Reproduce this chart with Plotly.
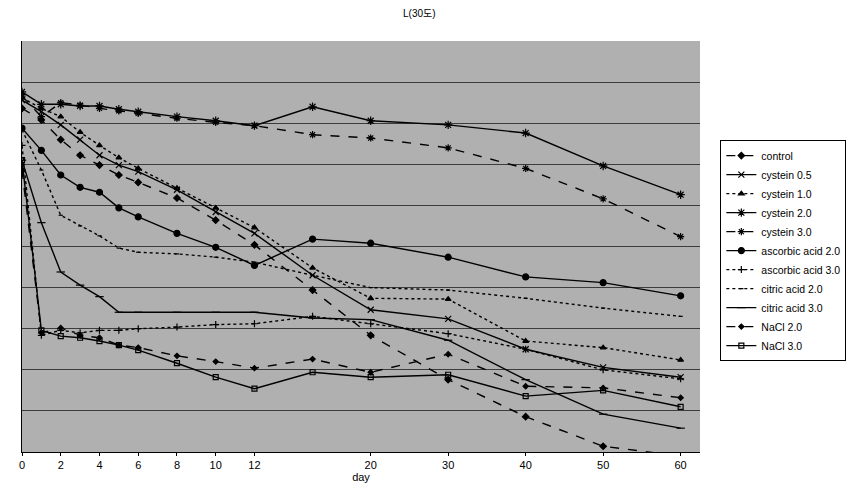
import plotly.graph_objects as go

# Sampling days and the slot each one occupies on the original (category-style) x axis
days = [0, 1, 2, 3, 4, 5, 6, 8, 10, 12, 16, 20, 30, 40, 50, 60]
day_slot = [0, 1, 2, 3, 4, 5, 6, 8, 10, 12, 15, 18, 22, 26, 30, 34]
tick_days = [0, 2, 4, 6, 8, 10, 12, 20, 30, 40, 50, 60]

control = [71.8, 70.4, 68.0, 66.1, 64.9, 63.7, 62.8, 60.9, 58.2, 55.2, 49.7, 44.2, 38.8, 34.3, 30.7, 29.5]
cystein_05 = [72.8, 71.4, 69.8, 68.0, 66.1, 64.9, 64.1, 61.9, 59.2, 56.6, 51.5, 47.3, 46.2, 42.5, 40.3, 39.1]
cystein_10 = [73.1, 71.8, 70.8, 68.9, 67.3, 65.8, 64.5, 62.1, 59.7, 57.3, 52.4, 48.7, 48.6, 43.5, 42.7, 41.2]
cystein_20 = [73.8, 72.3, 72.3, 72.1, 72.1, 71.7, 71.4, 70.8, 70.3, 69.7, 72.0, 70.3, 69.8, 68.8, 64.8, 61.3]
cystein_30 = [73.3, 70.8, 72.5, 72.2, 71.8, 71.5, 71.2, 70.6, 70.1, 69.7, 68.6, 68.2, 67.0, 64.5, 60.8, 56.2]
ascorbic_20 = [69.4, 66.7, 63.7, 62.2, 61.6, 59.7, 58.6, 56.6, 54.9, 52.7, 55.9, 55.4, 53.7, 51.3, 50.6, 49.0]
ascorbic_30 = [67.3, 44.2, 44.8, 44.5, 44.8, 44.8, 45.0, 45.2, 45.5, 45.6, 46.5, 45.6, 44.4, 42.5, 40.0, 38.9]
citric_20 = [69.2, 64.3, 58.8, 57.5, 56.3, 54.8, 54.3, 54.1, 53.7, 53.1, 51.5, 50.0, 49.7, 48.7, 47.5, 46.5]
citric_30 = [65.5, 57.9, 51.9, 50.3, 48.9, 47.0, 47.0, 47.0, 47.0, 47.0, 46.3, 46.1, 43.6, 38.8, 34.6, 32.9]
nacl_20 = [64.3, 44.5, 45.1, 44.2, 43.9, 43.0, 42.7, 41.7, 41.0, 40.2, 41.3, 39.7, 41.9, 38.0, 37.8, 36.6]
nacl_30 = [65.5, 44.8, 44.1, 43.9, 43.5, 43.0, 42.4, 40.8, 39.1, 37.7, 39.7, 39.1, 39.4, 36.8, 37.5, 35.5]

series_names = ["control", "cystein 0.5", "cystein 1.0", "cystein 2.0", "cystein 3.0",
                "ascorbic acid 2.0", "ascorbic acid 3.0", "citric acid 2.0", "citric acid 3.0",
                "NaCl 2.0", "NaCl 3.0"]
series_values = [control, cystein_05, cystein_10, cystein_20, cystein_30,
                 ascorbic_20, ascorbic_30, citric_20, citric_30, nacl_20, nacl_30]
styles = [
    ("dash", "diamond", 5),
    ("solid", "x-thin-open", 6),
    ("dot", "triangle-up", 5),
    ("solid", "asterisk-open", 7),
    ("dash", "asterisk-open", 6),
    ("solid", "circle", 6),
    ("dot", "cross-thin-open", 5),
    ("dot", "line-ew-open", 3),
    ("solid", "line-ew-open", 6),
    ("dash", "diamond", 4),
    ("solid", "square-open", 5),
]

y_min, y_max, y_step = 30, 80, 5

fig = go.Figure()
for name, vals, (dash, sym, size) in zip(series_names, series_values, styles):
    fig.add_trace(go.Scatter(
        x=day_slot, y=vals, name=name, mode="lines+markers",
        line=dict(color="black", width=1.4, dash=dash),
        marker=dict(symbol=sym, size=size, color="black",
                    line=dict(color="black", width=1.2)),
        cliponaxis=True,
    ))

slot_of = dict(zip(days, day_slot))
font_family = "Liberation Sans, Arial, Noto Sans CJK KR, sans-serif"

fig.update_layout(
    width=862, height=497,
    margin=dict(l=22, r=162, t=41, b=45),
    paper_bgcolor="white",
    plot_bgcolor="#b0b0b0",
    font=dict(family=font_family, size=10, color="black"),
    title=dict(text="L(30도)", x=0.586, xref="paper", xanchor="center",
               y=0.973, yref="container", yanchor="middle",
               font=dict(size=10, family="Liberation Sans, Noto Sans CJK KR")),
    showlegend=True,
    legend=dict(x=1.03, xanchor="left", y=0.49, yanchor="middle",
                bgcolor="white", bordercolor="black", borderwidth=1,
                font=dict(size=10.5, family=font_family),
                tracegroupgap=0, itemwidth=30),
    xaxis=dict(
        range=[0, 35.0],
        tickmode="array",
        tickvals=[slot_of[d] for d in tick_days],
        ticktext=[str(d) for d in tick_days],
        ticks="outside", ticklen=3, tickcolor="black",
        showgrid=False, zeroline=False,
        showline=True, linecolor="black", linewidth=1,
        tickfont=dict(size=11),
        title=dict(text="day", font=dict(size=11), standoff=3),
    ),
    yaxis=dict(
        range=[y_min, y_max],
        tickmode="array",
        tickvals=list(range(y_min + y_step, y_max, y_step)),
        showticklabels=False,
        showgrid=True, gridcolor="#3c3c3c", gridwidth=1,
        zeroline=False,
        showline=True, linecolor="black", linewidth=1,
    ),
)

fig.write_html("out.html")
